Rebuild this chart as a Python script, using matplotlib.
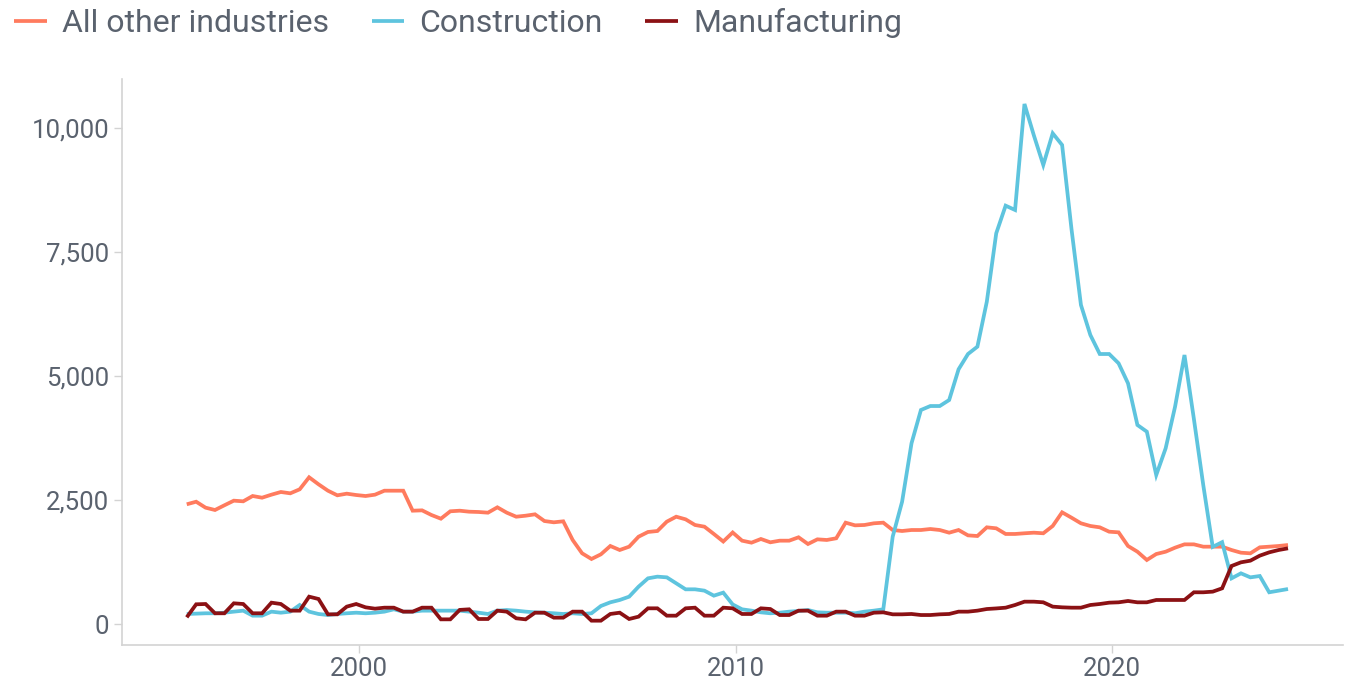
import numpy as np
import pandas as pd
import matplotlib
matplotlib.use("Agg")
import matplotlib.pyplot as plt
from matplotlib.ticker import FuncFormatter, FixedLocator

# Quarterly observations, first one in June 1995
start = "1995-06-01"
n_periods = 118

all_other = [
    2418, 2470, 2350, 2303, 2398, 2491, 2478, 2585, 2551, 2612,
    2666, 2639, 2720, 2962, 2821, 2692, 2599, 2632, 2605, 2585,
    2612, 2692, 2692, 2692, 2289, 2296, 2202, 2128, 2277, 2289,
    2269, 2263, 2249, 2357, 2249, 2168, 2188, 2216, 2081, 2055,
    2075, 1699, 1431, 1316, 1410, 1578, 1497, 1564, 1765, 1860,
    1880, 2068, 2168, 2115, 2001, 1967, 1820, 1668, 1850, 1685,
    1645, 1719, 1652, 1685, 1685, 1753, 1618, 1712, 1699, 1733,
    2048, 1994, 2001, 2035, 2048, 1900, 1880, 1900, 1900, 1920,
    1900, 1846, 1900, 1792, 1779, 1954, 1934, 1820, 1820, 1834,
    1846, 1834, 1981, 2256, 2148, 2035, 1981, 1954, 1866, 1853,
    1578, 1463, 1296, 1416, 1463, 1544, 1611, 1611, 1564, 1564,
    1564, 1497, 1443, 1430, 1551, 1564, 1578, 1598,
]

construction = [
    208, 215, 222, 222, 234, 255, 275, 174, 174, 255,
    234, 255, 389, 255, 208, 187, 208, 222, 234, 222,
    234, 255, 302, 255, 255, 275, 275, 275, 275, 275,
    255, 234, 208, 275, 288, 275, 255, 241, 234, 222,
    208, 222, 208, 222, 369, 443, 490, 557, 758, 926,
    960, 946, 826, 705, 705, 678, 577, 638, 400, 302,
    275, 241, 222, 234, 255, 268, 288, 241, 234, 234,
    234, 222, 255, 275, 302, 1765, 2470, 3647, 4318, 4398,
    4398, 4519, 5138, 5446, 5594, 6500, 7878, 8435, 8348, 10484,
    9850, 9255, 9893, 9657, 7958, 6434, 5829, 5446, 5446, 5259,
    4856, 4016, 3881, 3008, 3546, 4385, 5426, 4137, 2800, 1560,
    1655, 926, 1027, 946, 973, 645, 678, 711,
]

manufacturing = [
    141, 403, 409, 222, 222, 423, 409, 222, 222, 436,
    409, 275, 275, 557, 510, 201, 201, 356, 409, 342,
    315, 335, 335, 255, 255, 335, 335, 100, 100, 290,
    302, 107, 107, 275, 255, 121, 100, 234, 234, 134,
    134, 255, 255, 73, 73, 208, 234, 107, 154, 322,
    322, 174, 174, 322, 335, 174, 174, 335, 322, 208,
    208, 322, 308, 187, 187, 275, 275, 174, 174, 255,
    255, 174, 174, 234, 241, 201, 201, 208, 187, 187,
    201, 208, 255, 255, 275, 308, 320, 335, 389, 456,
    456, 443, 356, 342, 335, 335, 389, 409, 436, 443,
    470, 443, 443, 490, 490, 490, 490, 645, 645, 658,
    725, 1175, 1249, 1282, 1383, 1450, 1497, 1531,
]

series_names = ["All other industries", "Construction", "Manufacturing"]
series_colors = ["#FF7B5E", "#5EC4DE", "#8B1114"]
x_ticks = [2000, 2010, 2020]
y_ticks = [0, 2500, 5000, 7500, 10000]

dates = pd.date_range(start, periods=n_periods, freq="3MS")
x = dates.year + (dates.month - 1) / 12.0

text_color = "#5A626E"
axis_color = "#D3D3D3"
plt.rcParams["font.family"] = ["Roboto", "DejaVu Sans"]

W, H = 1353, 682
fig = plt.figure(figsize=(W / 100, H / 100), dpi=100)
ax = fig.add_axes([122.3 / W, 1 - 645 / H, (1343 - 122.3) / W, (645 - 79) / H])

handles = []
for vals, name, col, z in zip([all_other, construction, manufacturing],
                              series_names, series_colors, [2, 3, 4]):
    (ln,) = ax.plot(x, vals, color=col, lw=2.7, label=name, zorder=z,
                    solid_joinstyle="miter", solid_capstyle="butt")
    handles.append(ln)

ax.set_xlim(1993.705, 2026.127)
ax.set_ylim(-417, 10987)

ax.xaxis.set_major_locator(FixedLocator(x_ticks))
ax.yaxis.set_major_locator(FixedLocator(y_ticks))
ax.xaxis.set_major_formatter(FuncFormatter(lambda v, p: f"{int(v)}"))
ax.yaxis.set_major_formatter(FuncFormatter(lambda v, p: f"{int(v):,}"))

for side in ["top", "right"]:
    ax.spines[side].set_visible(False)
for side in ["left", "bottom"]:
    ax.spines[side].set_color(axis_color)
    ax.spines[side].set_linewidth(1.2)

ax.tick_params(axis="both", which="major", length=5.5, width=1.0,
               color=axis_color, labelcolor=text_color, labelsize=18.5,
               direction="out")
ax.tick_params(axis="y", pad=4)
ax.tick_params(axis="x", pad=3)

fig.legend(handles=handles, labels=series_names, loc="upper left",
           bbox_to_anchor=(14 / W, 1 - 8 / H), ncol=3, frameon=False,
           fontsize=23, labelcolor=text_color, handlelength=1.03,
           handletextpad=0.47, columnspacing=1.33, borderpad=0,
           borderaxespad=0)

fig.savefig("out.png", dpi=100)
